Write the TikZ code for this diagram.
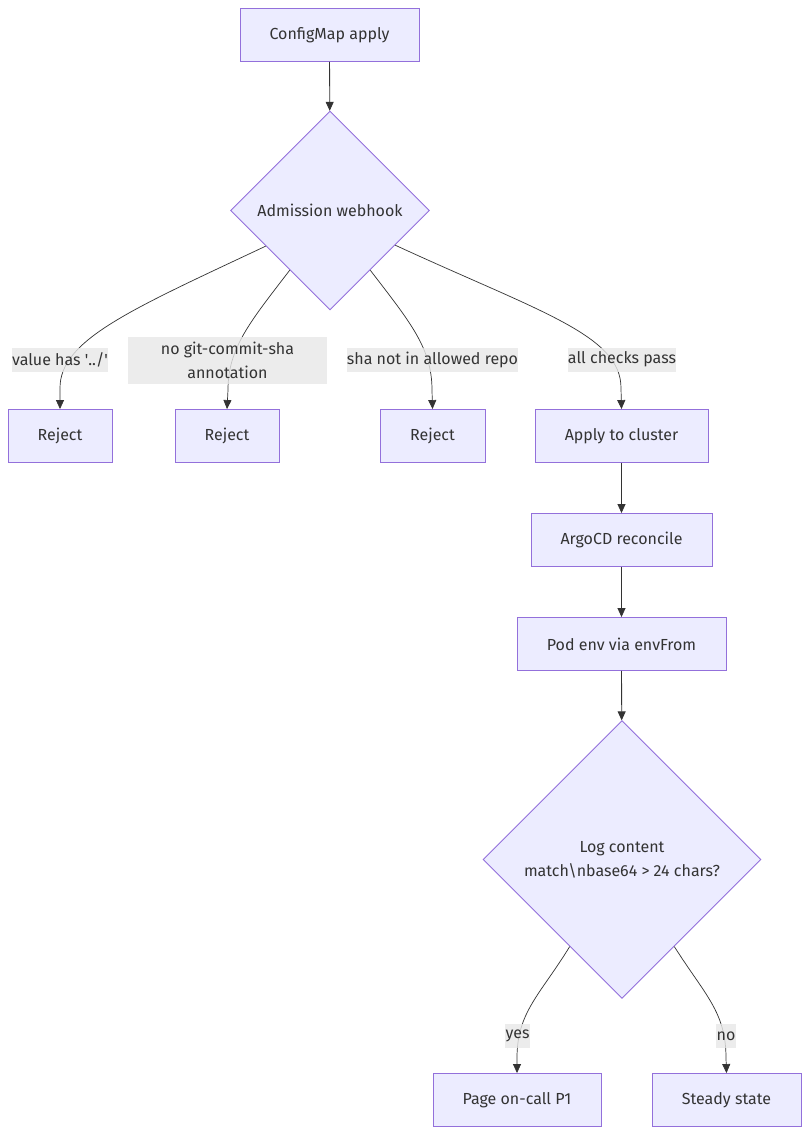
\documentclass[tikz,border=0pt]{standalone}
\usepackage{fontspec}
\setmainfont{Fira Sans}
\usetikzlibrary{shapes.geometric,arrows.meta,calc}
\definecolor{nodefill}{HTML}{ECECFF}
\definecolor{nodeline}{HTML}{9370DB}
\definecolor{edgeline}{HTML}{333333}
\definecolor{txt}{HTML}{333333}
\definecolor{lblbg}{HTML}{E8E8E8}
\begin{document}
\begin{tikzpicture}[x=1pt,y=-1pt,
  every node/.style={font=\fontsize{16}{24}\selectfont, text=txt},
  box/.style={draw=nodeline, fill=nodefill, line width=0.9pt, rectangle, minimum height=53pt, inner sep=0pt},
  decision/.style={draw=nodeline, fill=nodefill, line width=0.9pt, diamond, shape aspect=1, inner sep=0pt, align=center},
  lbl/.style={fill=lblbg, fill opacity=0.8, text opacity=1, inner sep=0pt, align=center},
  edge/.style={draw=edgeline, line width=0.8pt, -{Triangle[length=9pt,width=8pt]}},
  sedge/.style={draw=edgeline, line width=0.7pt, -{Triangle[length=9pt,width=8pt]}}
]
\useasboundingbox (0,0) rectangle (809,1135);
\fill[white] (0,0) rectangle (809,1135);

\node[box, minimum width=179pt] (cm) at (329.5,35) {ConfigMap apply};
\node[decision, minimum width=199pt, minimum height=199pt] (adm) at (330,210.5) {Admission webhook};
\node[box, minimum width=104pt] (r1) at (60,436) {Reject};
\node[box, minimum width=104pt] (r2) at (227,436) {Reject};
\node[box, minimum width=105pt] (r3) at (432.5,436) {Reject};
\node[box, minimum width=173pt] (ap) at (621.5,436) {Apply to cluster};
\node[box, minimum width=181pt] (argo) at (621.5,540) {ArgoCD reconcile};
\node[box, minimum width=209pt] (pod) at (621.5,644) {Pod env via envFrom};
\node[decision, minimum width=278pt, minimum height=278pt] (log) at (622,859.5) {Log content\\match\textbackslash nbase64 > 24 chars?};
\node[box, minimum width=168pt] (page) at (517,1100) {Page on-call P1};
\node[box, minimum width=149pt] (steady) at (726.5,1100) {Steady state};

\draw[edge] (cm) -- (adm);
\draw[edge] (ap) -- (argo);
\draw[edge] (argo) -- (pod);
\draw[edge] (pod) -- (log);

\draw[sedge] (adm.209) .. controls (130,310) and (60,340) .. (60,388) -- (r1.north);
\draw[sedge] (adm.236) .. controls (250,322) and (228,348) .. (228,390) -- (r2.north);
\draw[sedge] (adm.304) .. controls (410,322) and (432,348) .. (432,390) -- (r3.north);
\draw[sedge] (adm.332) .. controls (540,312) and (621,335) .. (621,388) -- (ap.north);
\draw[sedge] (log.239) .. controls (540,995) and (517,1012) .. (517,1058) -- (page.north);
\draw[sedge] (log.301) .. controls (705,995) and (726,1012) .. (726,1058) -- (steady.north);

\node[lbl, minimum width=94pt, minimum height=24pt] (l1) at (60,359.5) {value has \textquotesingle../\textquotesingle};
\node[lbl, minimum width=199pt, minimum height=47pt] (l2) at (227.5,360) {no git-commit-sha\\annotation};
\node[lbl, minimum width=171pt, minimum height=24pt] (l3) at (432.5,359.5) {sha not in allowed repo};
\node[lbl, minimum width=108pt, minimum height=24pt] (l4) at (622,359.5) {all checks pass};
\node[lbl, minimum width=25pt, minimum height=24pt] (l5) at (517.5,1036) {yes};
\node[lbl, minimum width=20pt, minimum height=24pt] (l6) at (726,1036) {no};
\end{tikzpicture}
\end{document}
